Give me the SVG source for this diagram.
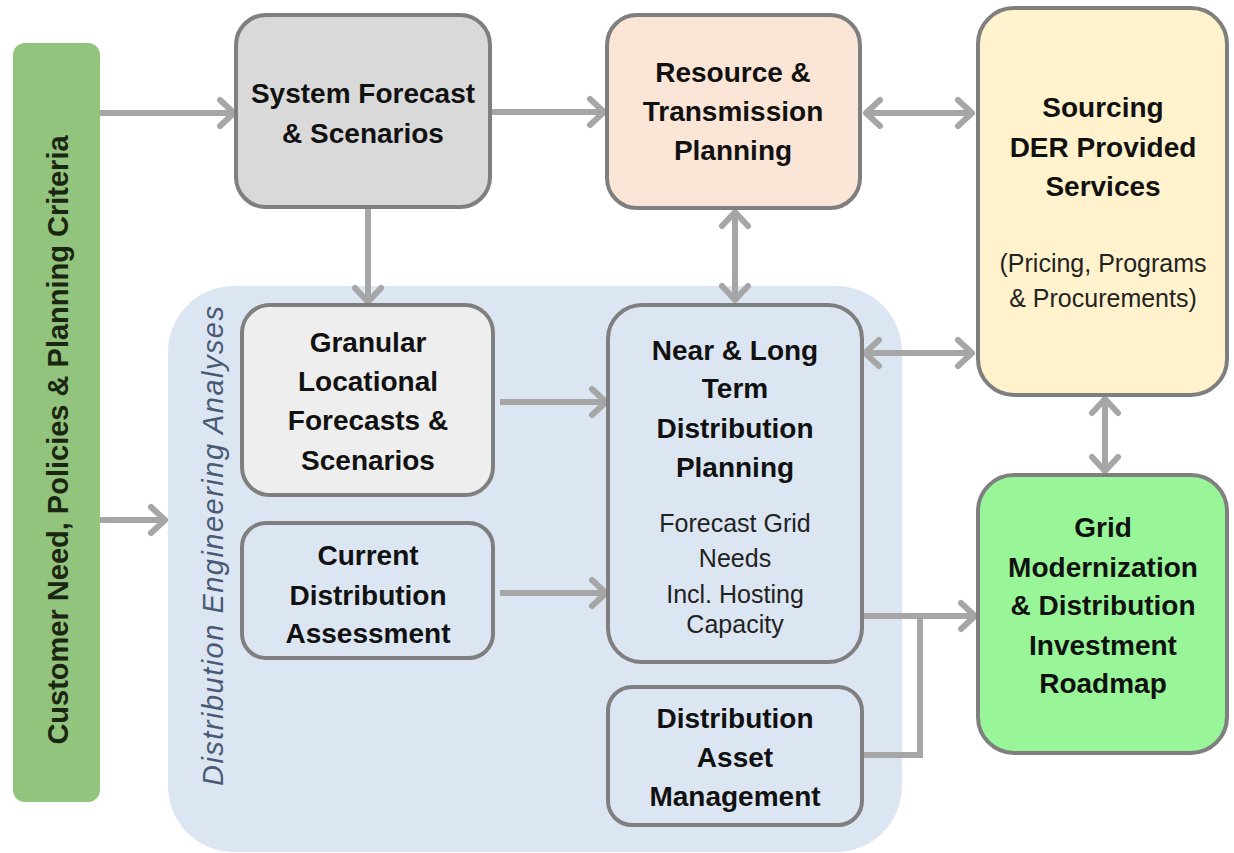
<svg xmlns="http://www.w3.org/2000/svg" width="1234" height="853" viewBox="0 0 1234 853">
<style>
.box{stroke:#7f7f7f;stroke-width:4}
.b{font-family:"Liberation Sans",Arial,sans-serif;font-weight:bold;font-size:28px;fill:#111;text-anchor:middle}
.r{font-family:"Liberation Sans",Arial,sans-serif;font-size:25px;fill:#222;text-anchor:middle}
.c{fill:none;stroke:#a6a6a6;stroke-width:6}
</style>
<defs>
<marker id="ah" markerUnits="userSpaceOnUse" orient="auto-start-reverse" refX="0" refY="0" markerWidth="40" markerHeight="40" overflow="visible">
<path d="M-14,-13 L0,0 L-14,13" fill="none" stroke="#a6a6a6" stroke-width="6" stroke-linecap="round" stroke-linejoin="round"/>
</marker>
</defs>
<rect width="1234" height="853" fill="#ffffff"/>

<g id="region">
<rect x="168" y="286" width="734" height="566" rx="66" fill="#dce6f2"/>
<text x="223" y="546" transform="rotate(-90 223 546)" font-family="Liberation Sans,Arial,sans-serif" font-style="italic" font-size="29" fill="#4a5a75" text-anchor="middle" textLength="480" lengthAdjust="spacing">Distribution Engineering Analyses</text>
</g>

<g id="customer">
<rect x="13" y="43" width="87" height="759" rx="12" fill="#93c47d"/>
<text x="68" y="440" transform="rotate(-90 68 440)" class="b" style="font-size:29px;fill:#1a2612">Customer Need, Policies &amp; Planning Criteria</text>
</g>

<g id="connectors" class="c">
<path d="M100,113 H234" marker-end="url(#ah)"/>
<path d="M100,520 H165" marker-end="url(#ah)"/>
<path d="M490,112 H604" marker-end="url(#ah)"/>
<path d="M368,207 V302" marker-end="url(#ah)"/>
<path d="M866,113 H972" marker-start="url(#ah)" marker-end="url(#ah)"/>
<path d="M735,212 V300" marker-start="url(#ah)" marker-end="url(#ah)"/>
<path d="M500,402 H606" marker-end="url(#ah)"/>
<path d="M500,593 H606" marker-end="url(#ah)"/>
<path d="M865,353 H972" marker-start="url(#ah)" marker-end="url(#ah)"/>
<path d="M1105,399 V471" marker-start="url(#ah)" marker-end="url(#ah)"/>
<path d="M864,616 H975" marker-end="url(#ah)"/>
<path d="M862,755 H920 V616"/>
</g>

<g id="system-forecast">
<rect class="box" x="236" y="15" width="254" height="192" rx="30" fill="#d9d9d9"/>
<text class="b" x="363" y="103">System Forecast</text>
<text class="b" x="363" y="143">&amp; Scenarios</text>
</g>

<g id="resource">
<rect class="box" x="607" y="15" width="253" height="193" rx="30" fill="#fbe5d6"/>
<text class="b" x="733" y="82">Resource &amp;</text>
<text class="b" x="733" y="121">Transmission</text>
<text class="b" x="733" y="160">Planning</text>
</g>

<g id="sourcing">
<rect class="box" x="978" y="8" width="249" height="387" rx="36" fill="#fff2cc"/>
<text class="b" x="1103" y="117">Sourcing</text>
<text class="b" x="1103" y="157">DER Provided</text>
<text class="b" x="1103" y="196">Services</text>
<text class="r" x="1103" y="272">(Pricing, Programs</text>
<text class="r" x="1103" y="307">&amp; Procurements)</text>
</g>

<g id="granular">
<rect class="box" x="242" y="305" width="251" height="190" rx="28" fill="#eeeeee"/>
<text class="b" x="368" y="352">Granular</text>
<text class="b" x="368" y="391">Locational</text>
<text class="b" x="368" y="430">Forecasts &amp;</text>
<text class="b" x="368" y="470">Scenarios</text>
</g>

<g id="current">
<rect class="box" x="242" y="523" width="251" height="135" rx="24" fill="#dce6f2"/>
<text class="b" x="368" y="565">Current</text>
<text class="b" x="368" y="605">Distribution</text>
<text class="b" x="368" y="643">Assessment</text>
</g>

<g id="near-long">
<rect class="box" x="608" y="305" width="254" height="357" rx="34" fill="#dce6f2"/>
<text class="b" x="735" y="360">Near &amp; Long</text>
<text class="b" x="735" y="398">Term</text>
<text class="b" x="735" y="438">Distribution</text>
<text class="b" x="735" y="477">Planning</text>
<text class="r" x="735" y="532">Forecast Grid</text>
<text class="r" x="735" y="567">Needs</text>
<text class="r" x="735" y="603">Incl. Hosting</text>
<text class="r" x="735" y="633">Capacity</text>
</g>

<g id="asset">
<rect class="box" x="608" y="687" width="254" height="138" rx="24" fill="#dce6f2"/>
<text class="b" x="735" y="728">Distribution</text>
<text class="b" x="735" y="767">Asset</text>
<text class="b" x="735" y="806">Management</text>
</g>

<g id="grid">
<rect class="box" x="978" y="475" width="249" height="278" rx="36" fill="#98f598"/>
<text class="b" x="1103" y="537">Grid</text>
<text class="b" x="1103" y="577">Modernization</text>
<text class="b" x="1103" y="615">&amp; Distribution</text>
<text class="b" x="1103" y="655">Investment</text>
<text class="b" x="1103" y="693">Roadmap</text>
</g>
</svg>
